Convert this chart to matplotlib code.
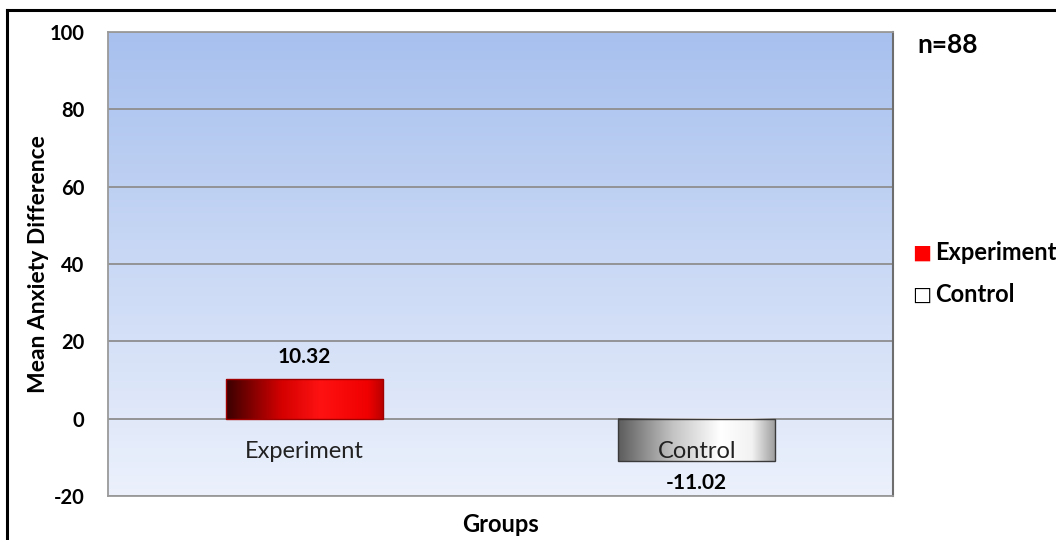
import numpy as np
import matplotlib.pyplot as plt
from matplotlib.colors import LinearSegmentedColormap
from matplotlib.lines import Line2D

# Data
groups = ["Experiment", "Control"]
mean_diff = [10.32, -11.02]
value_labels = ["10.32", "-11.02"]
y_ticks = [-20, 0, 20, 40, 60, 80, 100]
sample_note = "n=88"

plt.rcParams['font.family'] = ['Lato', 'DejaVu Sans']
plt.rcParams['axes.unicode_minus'] = False

fig = plt.figure(figsize=(10.56, 5.4), dpi=100)
ax = fig.add_axes([0.1023, 0.0815, 0.7434, 0.8593])

# Outer frame lines (top and left)
fig.add_artist(Line2D([7 / 1056, 7 / 1056], [0, 1 - 10 / 540], transform=fig.transFigure,
                      color='black', lw=2.2))
fig.add_artist(Line2D([7 / 1056, 1], [1 - 10 / 540, 1 - 10 / 540], transform=fig.transFigure,
                      color='black', lw=2.2))

# Plot-area background gradient
bg = LinearSegmentedColormap.from_list("bg", ["#ECF1FC", "#A7C0EE"])
ax.imshow(np.linspace(0, 1, 256).reshape(-1, 1), cmap=bg, aspect='auto',
          extent=[0, 1, 0, 1], origin='lower', transform=ax.transAxes, zorder=0)

ax.set_xlim(-0.5, 1.5)
ax.set_ylim(-20, 100)
ax.set_yticks(y_ticks)
ax.set_xticks([])
ax.yaxis.grid(True, color='#8E8E8E', lw=1.3, zorder=1)
ax.set_axisbelow(True)
ax.tick_params(axis='y', length=0, pad=17, labelsize=14.5)
for lbl in ax.get_yticklabels():
    lbl.set_fontweight('bold')
for side in ['left', 'top', 'bottom']:
    ax.spines[side].set_color('#9A9A9A')
    ax.spines[side].set_linewidth(1.3)
ax.spines['right'].set_color('#6E6E6E')
ax.spines['right'].set_linewidth(1.5)

# Bars with horizontal shading
bar_cmaps = [
    LinearSegmentedColormap.from_list("red", [(0, "#3A0000"), (0.35, "#D40000"),
                                              (0.6, "#FF1212"), (0.9, "#F00000"), (1, "#B80000")]),
    LinearSegmentedColormap.from_list("grey", [(0, "#5C5C5C"), (0.35, "#C4C4C4"),
                                               (0.65, "#FFFFFF"), (0.85, "#F2F2F2"), (1, "#9C9C9C")]),
]
edge_colors = ["#A00000", "#3A3A3A"]
width = 0.4
x = np.arange(len(groups))
bars = ax.bar(x, mean_diff, width=width, color='none', edgecolor='none', zorder=3)
grad = np.linspace(0, 1, 256).reshape(1, -1)
for i, b in enumerate(bars):
    x0, y0 = b.get_x(), b.get_y()
    w, h = b.get_width(), b.get_height()
    ax.imshow(grad, cmap=bar_cmaps[i], aspect='auto',
              extent=[x0, x0 + w, min(y0, y0 + h), max(y0, y0 + h)], zorder=3)
    ax.add_patch(plt.Rectangle((x0, y0), w, h, fill=False, edgecolor=edge_colors[i],
                               lw=1.0, zorder=4))

# Value labels
for xi, v, s in zip(x, mean_diff, value_labels):
    offset = 5.5 if v >= 0 else -5.5
    ax.text(xi, v + offset, s, ha='center', va='center', fontsize=15,
            fontweight='bold', zorder=5)

# Category labels inside the plot
for xi, g in zip(x, groups):
    ax.text(xi, -8.5, g, ha='center', va='center', fontsize=17, color='#222222', zorder=5)

ax.set_ylabel("Mean Anxiety Difference", fontsize=16.5, fontweight='bold')
ax.yaxis.label.set_va('center')
ax.yaxis.set_label_coords(-0.088, 0.5)
ax.set_xlabel("Groups", fontsize=17, fontweight='bold', labelpad=12)

# Sample size and legend
fig.text(917 / 1056, 1 - 45 / 540, sample_note, fontsize=19, fontweight='bold',
         ha='left', va='center')
fig.text(912 / 1056, 1 - 253 / 540, "\u25A0", fontsize=14.5, color='#FF0000',
         ha='left', va='center', family='DejaVu Sans')
fig.text(935 / 1056, 1 - 253 / 540, groups[0], fontsize=17, fontweight='bold',
         ha='left', va='center')
fig.text(912 / 1056, 1 - 295 / 540, "\u25A1", fontsize=14.5, color='black',
         ha='left', va='center', family='DejaVu Sans')
fig.text(935 / 1056, 1 - 295 / 540, groups[1], fontsize=17, fontweight='bold',
         ha='left', va='center')

fig.savefig("out.png", dpi=100, facecolor='white')
